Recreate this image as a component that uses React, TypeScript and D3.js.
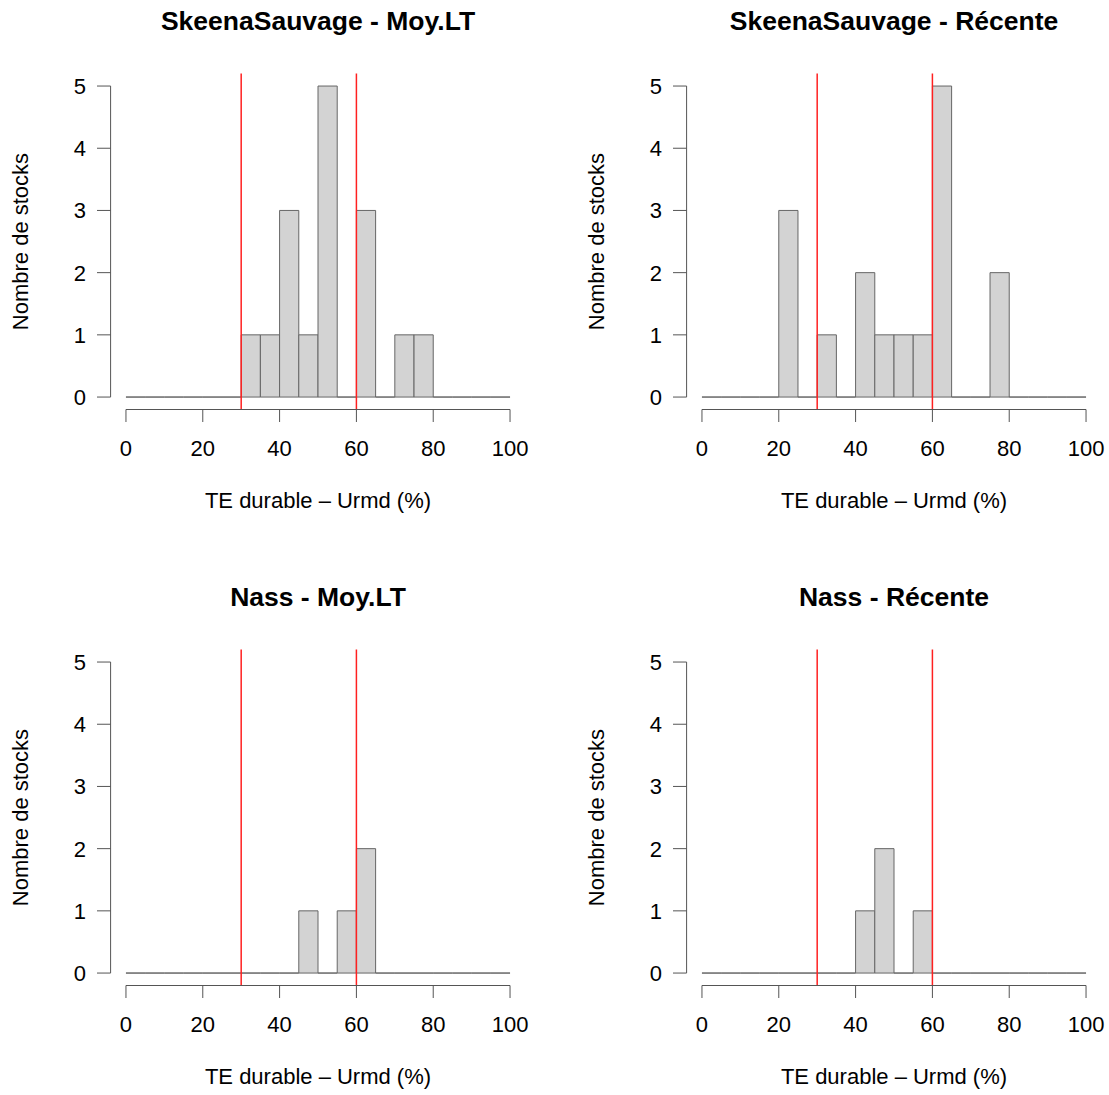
import React from "react";
import * as d3 from "d3";

const binStarts = [0, 5, 10, 15, 20, 25, 30, 35, 40, 45, 50, 55, 60, 65, 70, 75, 80, 85, 90, 95];
const skeenaMoyLT = [0, 0, 0, 0, 0, 0, 1, 1, 3, 1, 5, 0, 3, 0, 1, 1, 0, 0, 0, 0];
const skeenaRecente = [0, 0, 0, 0, 3, 0, 1, 0, 2, 1, 1, 1, 5, 0, 0, 2, 0, 0, 0, 0];
const nassMoyLT = [0, 0, 0, 0, 0, 0, 0, 0, 0, 1, 0, 1, 2, 0, 0, 0, 0, 0, 0, 0];
const nassRecente = [0, 0, 0, 0, 0, 0, 0, 0, 1, 2, 0, 1, 0, 0, 0, 0, 0, 0, 0, 0];
const titles = ["SkeenaSauvage - Moy.LT", "SkeenaSauvage - Récente", "Nass - Moy.LT", "Nass - Récente"];
const xTicks = [0, 20, 40, 60, 80, 100];
const yTicks = [0, 1, 2, 3, 4, 5];
const refLines = [30, 60];
const binWidth = 5;
const xLabel = "TE durable – Urmd (%)";
const yLabel = "Nombre de stocks";

const panels = [skeenaMoyLT, skeenaRecente, nassMoyLT, nassRecente];

const font = "Liberation Sans, Arial, sans-serif";

function Panel({ counts, title, ox, oy }: { counts: number[]; title: string; ox: number; oy: number }) {
  const x = d3.scaleLinear().domain([-4, 104]).range([110.6, 525.4]);
  const y = d3.scaleLinear().domain([-0.2, 5.2]).range([409.5, 73.6]);
  const axisColor = "#555";
  return (
    <g transform={`translate(${ox},${oy})`}>
      <text x={(x(-4) + x(104)) / 2} y={30} textAnchor="middle" fontFamily={font} fontWeight="bold" fontSize={26.5}>
        {title}
      </text>
      {counts.map((c, i) => {
        const x0 = x(binStarts[i]);
        const x1 = x(binStarts[i] + binWidth);
        const y0 = y(0);
        const y1 = y(c);
        return (
          <path
            key={i}
            d={`M${x0},${y0}V${y1}H${x1}V${y0}Z`}
            fill="#d3d3d3"
            stroke="#666"
            strokeWidth={1}
          />
        );
      })}
      {refLines.map((v) => (
        <line key={v} x1={x(v)} x2={x(v)} y1={y(5.2)} y2={y(-0.2)} stroke="#ff2020" strokeWidth={1.5} />
      ))}
      {/* x axis */}
      <line x1={x(0)} x2={x(100)} y1={409.5} y2={409.5} stroke={axisColor} />
      {xTicks.map((t) => (
        <g key={t}>
          <line x1={x(t)} x2={x(t)} y1={409.5} y2={422} stroke={axisColor} />
          <text x={x(t)} y={456} textAnchor="middle" fontFamily={font} fontSize={22}>
            {t}
          </text>
        </g>
      ))}
      <text x={318} y={508} textAnchor="middle" fontFamily={font} fontSize={22}>
        {xLabel}
      </text>
      {/* y axis */}
      <line x1={110.6} x2={110.6} y1={y(0)} y2={y(5)} stroke={axisColor} />
      {yTicks.map((t) => (
        <g key={t}>
          <line x1={97} x2={110.6} y1={y(t)} y2={y(t)} stroke={axisColor} />
          <text x={86} y={y(t) + 8} textAnchor="end" fontFamily={font} fontSize={22}>
            {t}
          </text>
        </g>
      ))}
      <text
        transform={`translate(28,${(y(5.2) + y(-0.2)) / 2}) rotate(-90)`}
        textAnchor="middle"
        fontFamily={font}
        fontSize={22}
      >
        {yLabel}
      </text>
    </g>
  );
}

export default function App() {
  return (
    <svg width={1109} height={1095} style={{ position: "absolute", left: 0, top: 0, background: "#fff" }}>
      <rect width={1109} height={1095} fill="#fff" />
      {panels.map((p, i) => (
        <Panel key={i} counts={p} title={titles[i]} ox={(i % 2) * 576} oy={Math.floor(i / 2) * 576} />
      ))}
    </svg>
  );
}
